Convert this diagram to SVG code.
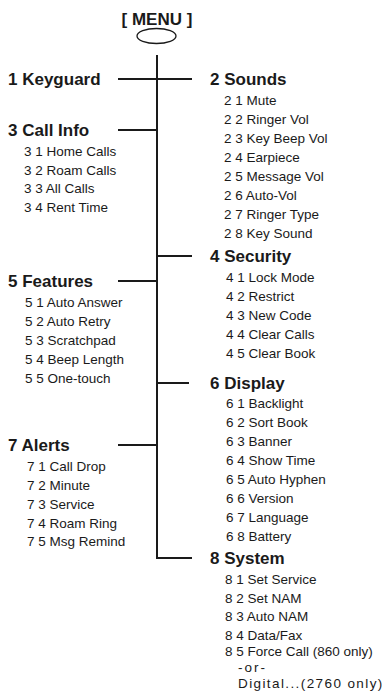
<svg xmlns="http://www.w3.org/2000/svg" width="388" height="695" viewBox="0 0 388 695">
<style>
text{font-family:"Liberation Sans",Arial,sans-serif;fill:#1a1a1a}
.h{font-size:17px;font-weight:bold}
.s{font-size:13.5px}
.m{font-size:13.5px;letter-spacing:1.4px}
.ln{stroke:#1a1a1a;stroke-width:2;fill:none}
</style>
<rect width="388" height="695" fill="#fff"/>
<g id="menu">
<text class="h" x="157" y="25" text-anchor="middle">[ MENU ]</text>
<ellipse cx="156.5" cy="36" rx="19.5" ry="7.5" fill="#fff" stroke="#1a1a1a" stroke-width="1.3"/>
</g>
<g id="connectors">
<path class="ln" d="M157 55V558H192"/>
<path class="ln" d="M118 79H192"/>
<path class="ln" d="M118 130H157"/>
<path class="ln" d="M157 256H192"/>
<path class="ln" d="M118 281H157"/>
<path class="ln" d="M157 383H189"/>
<path class="ln" d="M118 445H157"/>
</g>
<g id="keyguard"><text class="h" x="8" y="85">1 Keyguard</text></g>
<g id="callinfo">
<text class="h" x="8" y="136">3 Call Info</text>
<text class="s" x="24" y="156">3 1 Home Calls</text>
<text class="s" x="24" y="175">3 2 Roam Calls</text>
<text class="s" x="24" y="193">3 3 All Calls</text>
<text class="s" x="24" y="212">3 4 Rent Time</text>
</g>
<g id="features">
<text class="h" x="8" y="287">5 Features</text>
<text class="s" x="25" y="307">5 1 Auto Answer</text>
<text class="s" x="25" y="326">5 2 Auto Retry</text>
<text class="s" x="25" y="345">5 3 Scratchpad</text>
<text class="s" x="25" y="364">5 4 Beep Length</text>
<text class="s" x="25" y="383">5 5 One-touch</text>
</g>
<g id="alerts">
<text class="h" x="8" y="451">7 Alerts</text>
<text class="s" x="27" y="471">7 1 Call Drop</text>
<text class="s" x="27" y="490">7 2 Minute</text>
<text class="s" x="27" y="509">7 3 Service</text>
<text class="s" x="27" y="528">7 4 Roam Ring</text>
<text class="s" x="27" y="546">7 5 Msg Remind</text>
</g>
<g id="sounds">
<text class="h" x="210" y="85">2 Sounds</text>
<text class="s" x="224" y="105">2 1 Mute</text>
<text class="s" x="224" y="124">2 2 Ringer Vol</text>
<text class="s" x="224" y="143">2 3 Key Beep Vol</text>
<text class="s" x="224" y="162">2 4 Earpiece</text>
<text class="s" x="224" y="181">2 5 Message Vol</text>
<text class="s" x="224" y="200">2 6 Auto-Vol</text>
<text class="s" x="224" y="219">2 7 Ringer Type</text>
<text class="s" x="224" y="238">2 8 Key Sound</text>
</g>
<g id="security">
<text class="h" x="210" y="262">4 Security</text>
<text class="s" x="226" y="282">4 1 Lock Mode</text>
<text class="s" x="226" y="301">4 2 Restrict</text>
<text class="s" x="226" y="320">4 3 New Code</text>
<text class="s" x="226" y="339">4 4 Clear Calls</text>
<text class="s" x="226" y="358">4 5 Clear Book</text>
</g>
<g id="display">
<text class="h" x="210" y="389">6 Display</text>
<text class="s" x="226" y="408">6 1 Backlight</text>
<text class="s" x="226" y="427">6 2 Sort Book</text>
<text class="s" x="226" y="446">6 3 Banner</text>
<text class="s" x="226" y="465">6 4 Show Time</text>
<text class="s" x="226" y="484">6 5 Auto Hyphen</text>
<text class="s" x="226" y="503">6 6 Version</text>
<text class="s" x="226" y="522">6 7 Language</text>
<text class="s" x="226" y="541">6 8 Battery</text>
</g>
<g id="system">
<text class="h" x="210" y="564">8 System</text>
<text class="s" x="225" y="584">8 1 Set Service</text>
<text class="s" x="225" y="603">8 2 Set NAM</text>
<text class="s" x="225" y="621">8 3 Auto NAM</text>
<text class="s" x="225" y="640">8 4 Data/Fax</text>
<text class="s" x="225" y="656">8 5 Force Call (860 only)</text>
<text class="m" x="238" y="672" style="letter-spacing:2px">-or-</text>
<text class="m" x="238" y="688">Digital...(2760 only)</text>
</g>
</svg>
